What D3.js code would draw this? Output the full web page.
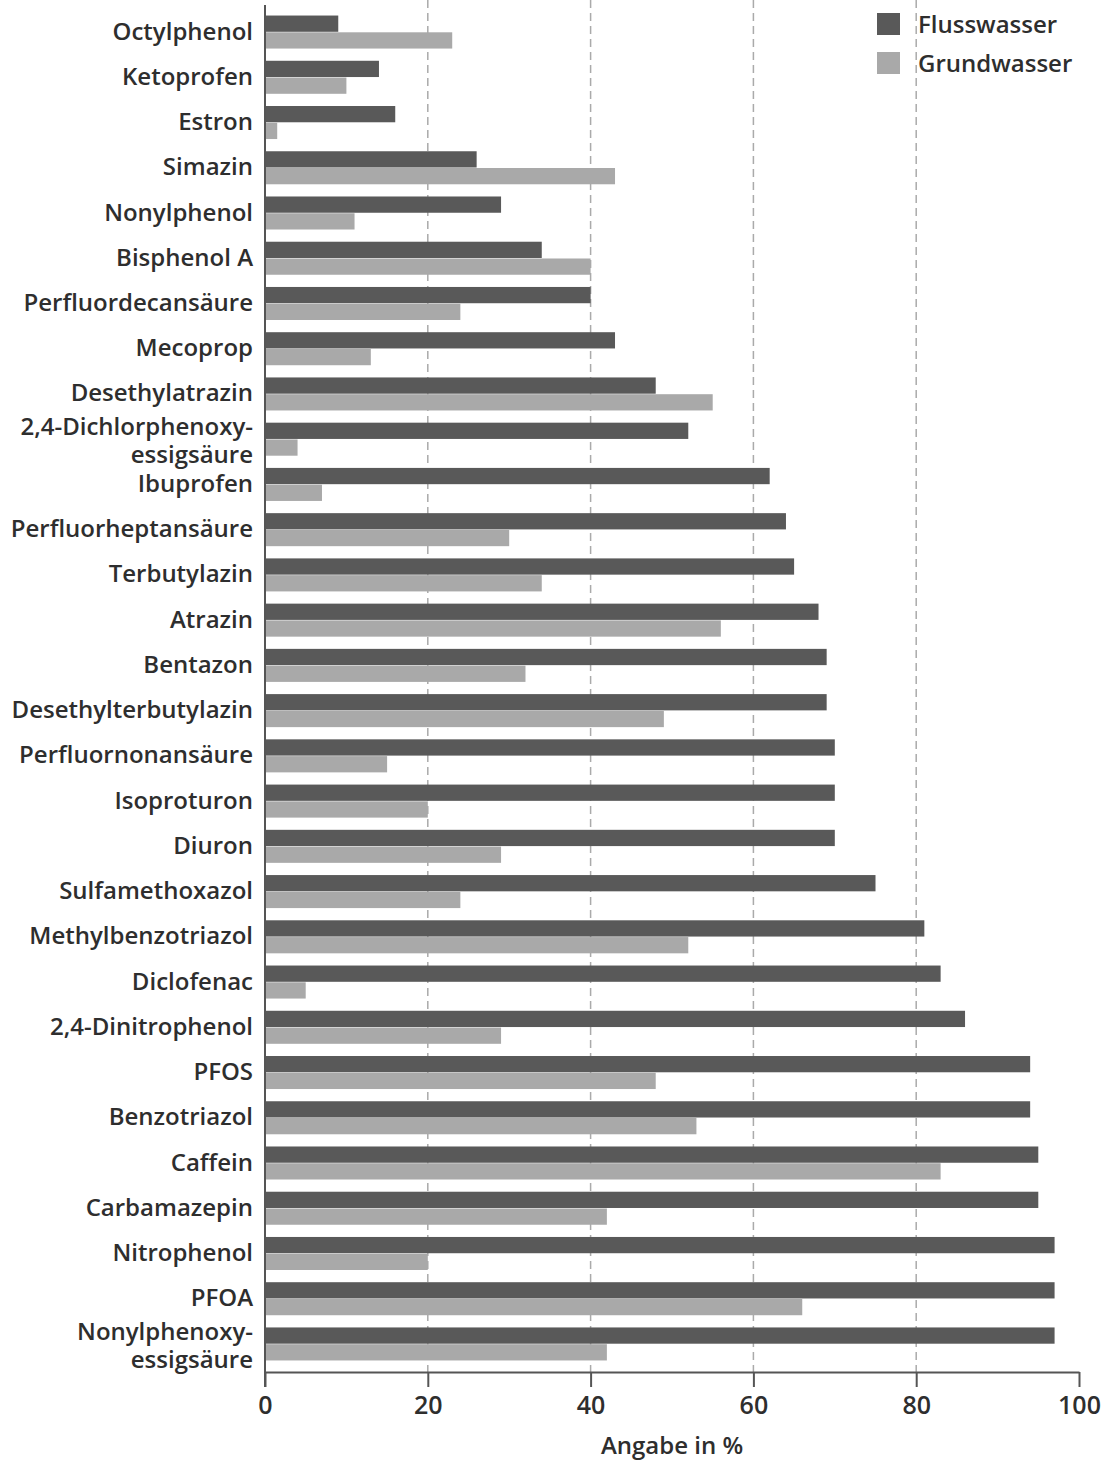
<!DOCTYPE html>
<html lang="de">
<head>
<meta charset="UTF-8">
<title>Flusswasser / Grundwasser</title>
<script src="https://d3js.org/d3.v7.min.js"></script>
<style>
  body { margin: 0; background: #fff; }
  svg text { font-family: "Open Sans", "Noto Sans", sans-serif; font-weight: 600; fill: #2e2e2e; }
  .grid line { stroke: #aaa; stroke-width: 1.5; stroke-dasharray: 8 5; }
</style>
</head>
<body>
<svg width="1110" height="1462"></svg>
<script>
// categories, top to bottom
const substances = [
  "Octylphenol", "Ketoprofen", "Estron", "Simazin", "Nonylphenol", "Bisphenol A",
  "Perfluordecansäure", "Mecoprop", "Desethylatrazin", "2,4-Dichlorphenoxy-\nessigsäure",
  "Ibuprofen", "Perfluorheptansäure", "Terbutylazin", "Atrazin", "Bentazon",
  "Desethylterbutylazin", "Perfluornonansäure", "Isoproturon", "Diuron", "Sulfamethoxazol",
  "Methylbenzotriazol", "Diclofenac", "2,4-Dinitrophenol", "PFOS", "Benzotriazol",
  "Caffein", "Carbamazepin", "Nitrophenol", "PFOA", "Nonylphenoxy-\nessigsäure"
];
const flusswasser = [9, 14, 16, 26, 29, 34, 40, 43, 48, 52, 62, 64, 65, 68, 69, 69, 70, 70, 70, 75, 81, 83, 86, 94, 94, 95, 95, 97, 97, 97];
const grundwasser = [23, 10, 1.5, 43, 11, 40, 24, 13, 55, 4, 7, 30, 34, 56, 32, 49, 15, 20, 29, 24, 52, 5, 29, 48, 53, 83, 42, 20, 66, 42];
const seriesNames = ["Flusswasser", "Grundwasser"];
const seriesColors = ["#595959", "#a9a9a9"];
const xTicks = [0, 20, 40, 60, 80, 100];

const svg = d3.select("svg");
const x0 = 265, x1 = 1079, axisY = 1372;

const x = d3.scaleLinear().domain([0, 100]).range([x0, x1]);
const y = d3.scaleBand().domain(substances).range([4, axisY])
  .paddingInner(0.27).paddingOuter(0.255);
const ySub = d3.scaleBand().domain(seriesNames).range([0, y.bandwidth()]).paddingInner(0.03);

const rows = substances.map((s, i) => ({ name: s, values: [flusswasser[i], grundwasser[i]] }));

// dashed gridlines
svg.append("g").attr("class", "grid")
  .selectAll("line").data(xTicks.filter(d => d > 0 && d < 100)).join("line")
  .attr("x1", d => x(d)).attr("x2", d => x(d))
  .attr("y1", 0).attr("y2", axisY);

// bars
const rowG = svg.append("g").selectAll("g").data(rows).join("g")
  .attr("transform", d => `translate(0,${y(d.name)})`);
rowG.selectAll("rect").data(d => d.values.map((v, j) => ({ v, s: seriesNames[j], c: seriesColors[j] })))
  .join("rect")
  .attr("x", x(0) + 1)
  .attr("y", d => ySub(d.s))
  .attr("width", d => x(d.v) - x(0) - 1)
  .attr("height", ySub.bandwidth())
  .attr("fill", d => d.c);

// category labels (two-line names are split at "\n")
const labels = svg.append("g").selectAll("text").data(substances).join("text")
  .attr("text-anchor", "end")
  .attr("font-size", 24)
  .attr("x", 253)
  .attr("y", d => y(d) + y.bandwidth() / 2)
  .attr("dominant-baseline", "central");
labels.each(function(d) {
  const lines = d.split("\n");
  const t = d3.select(this);
  lines.forEach((ln, k) => {
    t.append("tspan").attr("x", 253)
      .attr("dy", k === 0 ? (lines.length > 1 ? -14 : -2.5) : 28)
      .text(ln);
  });
});

// x axis
const xAxis = svg.append("g").attr("transform", `translate(0,${axisY})`)
  .call(d3.axisBottom(x).tickValues(xTicks).tickSize(15).tickSizeOuter(0).tickPadding(9));
xAxis.select(".domain").attr("stroke", "#555").attr("stroke-width", 2);
xAxis.selectAll(".tick line").attr("stroke", "#555").attr("stroke-width", 2);
xAxis.selectAll(".tick text").attr("font-size", 25).attr("font-family", null).style("fill", "#2e2e2e");

// left axis line
svg.append("line").attr("x1", x0).attr("x2", x0).attr("y1", 5).attr("y2", axisY + 15)
  .attr("stroke", "#555").attr("stroke-width", 2);

// axis title
svg.append("text").attr("x", (x0 + x1) / 2).attr("y", 1444)
  .attr("text-anchor", "middle").attr("dominant-baseline", "central")
  .attr("font-size", 24).text("Angabe in %");

// legend
const legend = svg.append("g").selectAll("g").data(seriesNames).join("g")
  .attr("transform", (d, i) => `translate(877,${13 + i * 39})`);
legend.append("rect").attr("width", 23).attr("height", 22).attr("fill", (d, i) => seriesColors[i]);
legend.append("text").attr("x", 41).attr("y", 10).attr("dominant-baseline", "central")
  .attr("font-size", 24).text(d => d);
</script>
</body>
</html>
